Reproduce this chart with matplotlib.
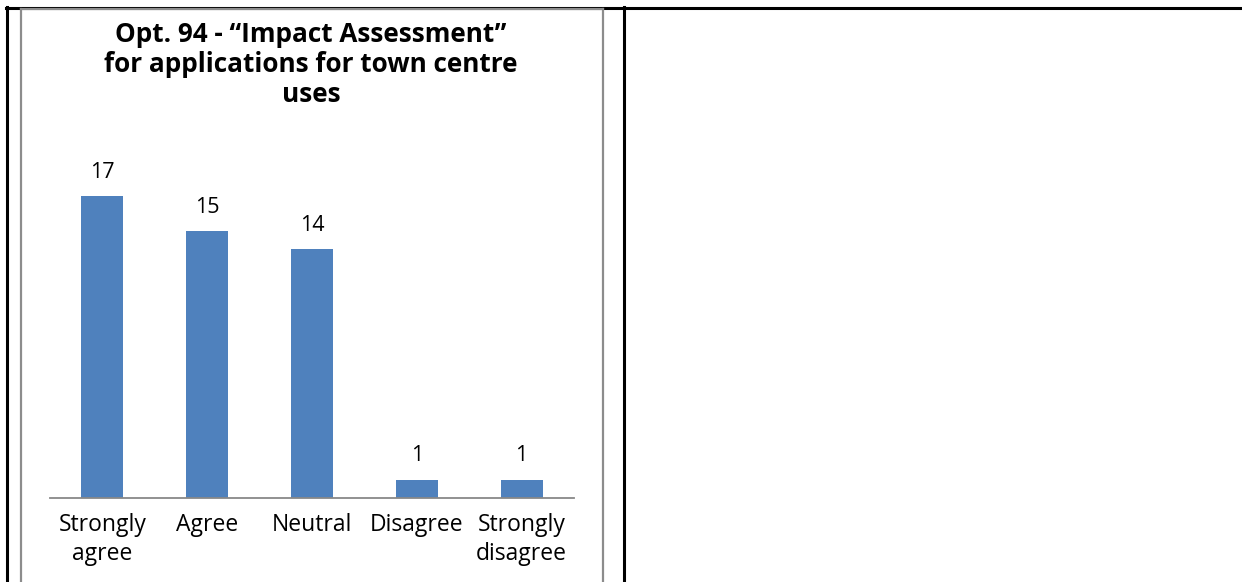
import matplotlib.pyplot as plt
from matplotlib.lines import Line2D

categories = ["Strongly\nagree", "Agree", "Neutral", "Disagree", "Strongly\ndisagree"]
counts = [17, 15, 14, 1, 1]
title = "Opt. 94 - \u201cImpact Assessment\u201d\nfor applications for town centre\nuses"

W, H = 1242, 582
plt.rcParams['font.family'] = ['Open Sans', 'DejaVu Sans']

fig = plt.figure(figsize=(W / 100, H / 100), dpi=100)


def px(x, y):
    # pixel position (from top-left) -> figure fraction
    return x / W, 1 - y / H


def line(x0, y0, x1, y1, color, lw):
    a, b = px(x0, y0)
    c, d = px(x1, y1)
    fig.add_artist(Line2D([a, c], [b, d], color=color, lw=lw, transform=fig.transFigure))


# table borders
line(6, 7.5, W, 7.5, "black", 2.2)
line(6.5, 7, 6.5, H, "black", 2.2)
line(623.5, 7, 623.5, H, "black", 2.2)
# chart frame
line(21, 9, 603, 9, "#8c8c8c", 1.6)
line(21, 9, 21, H, "#8c8c8c", 1.6)
line(603, 9, 603, H, "#8c8c8c", 1.6)

# plot area
left, right, bottom, top = 50, 574, 497.5, 140
x0, y0 = px(left, bottom)
ax = fig.add_axes([x0, y0, (right - left) / W, (bottom - top) / H])
ymax = 17 * (bottom - top) / (bottom - 196)

xs = range(len(counts))
ax.bar(xs, counts, width=0.40, color="#4f81bd")
for x, v in zip(xs, counts):
    ax.text(x, v + 0.75, str(v), ha="center", va="bottom", fontsize=15.5)

ax.set_xlim(-0.5, len(counts) - 0.5)
ax.set_ylim(0, ymax)
ax.set_xticks(list(xs))
ax.set_xticklabels(categories, fontsize=16.5, linespacing=1.3)
ax.tick_params(axis="x", length=0, pad=11)
ax.set_yticks([])
for s in ["left", "right", "top"]:
    ax.spines[s].set_visible(False)
ax.spines["bottom"].set_color("#888888")
ax.spines["bottom"].set_linewidth(1.3)
ax.patch.set_alpha(0)

tx, ty = px(311, 21)
fig.text(tx, ty, title, ha="center", va="top", fontsize=18.8, fontweight="bold",
         linespacing=1.15)

fig.savefig("out.png", dpi=100)
